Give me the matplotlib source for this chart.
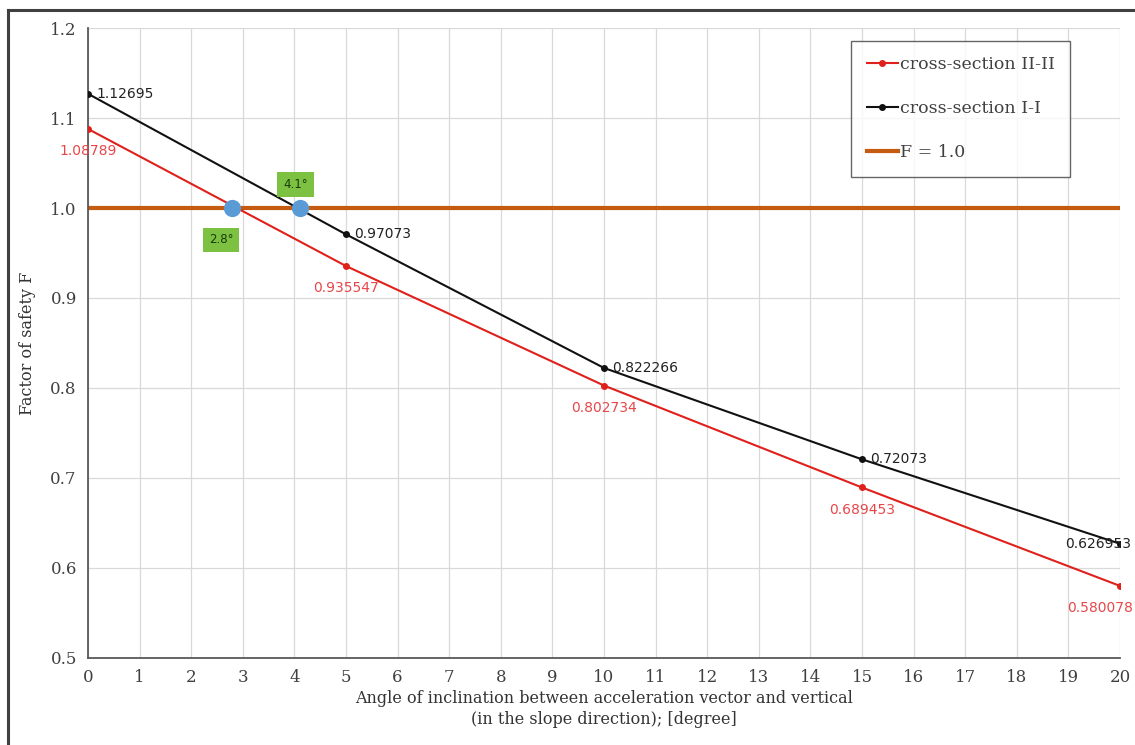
import matplotlib
matplotlib.use("Agg")
import matplotlib.pyplot as plt
from matplotlib.lines import Line2D

angles = [0, 5, 10, 15, 20]
f_sec2 = [1.08789, 0.935547, 0.802734, 0.689453, 0.580078]
f_sec1 = [1.12695, 0.97073, 0.822266, 0.72073, 0.626953]
lab_sec2 = ["1.08789", "0.935547", "0.802734", "0.689453", "0.580078"]
lab_sec1 = ["1.12695", "0.97073", "0.822266", "0.72073", "0.626953"]
cross_x = [2.8, 4.1]
cross_lab = ["2.8°", "4.1°"]
x_ticks = list(range(0, 21))
y_ticks = [0.5, 0.6, 0.7, 0.8, 0.9, 1.0, 1.1, 1.2]
y_tick_labels = ["0.5", "0.6", "0.7", "0.8", "0.9", "1.0", "1.1", "1.2"]

plt.rcParams['font.family'] = ['DejaVu Serif']

fig = plt.figure(figsize=(11.35, 7.45), dpi=100)
ax = fig.add_axes([0.0775, 0.1168, 0.9093, 0.8456])

# outer frame (left and top edges visible)
fig.add_artist(Line2D([8/1135, 8/1135], [0, 1 - 10/745], transform=fig.transFigure,
                      color='#404040', linewidth=2.2))
fig.add_artist(Line2D([8/1135, 1], [1 - 10/745, 1 - 10/745], transform=fig.transFigure,
                      color='#404040', linewidth=2.2))

red = '#E0201B'
black = '#111111'
orange = '#C55A11'

fline = ax.axhline(1.0, color=orange, linewidth=3, zorder=2, label='F = 1.0')
l2, = ax.plot(angles, f_sec2, color=red, marker='o', markersize=4, linewidth=1.5,
              zorder=3, label='cross-section II-II')
l1, = ax.plot(angles, f_sec1, color=black, marker='o', markersize=4, linewidth=1.5,
              zorder=3, label='cross-section I-I')

ax.scatter(cross_x, [1.0, 1.0], s=130, color='#5B9BD5', zorder=5)

# green labels
ax.annotate(cross_lab[0], (cross_x[0], 1.0), xytext=(-8, -23), textcoords='offset points',
            ha='center', va='center', fontsize=8.5, family='DejaVu Sans', color='#1a3a0a',
            bbox=dict(boxstyle='square,pad=0.5', fc='#7DC142', ec='none'), zorder=6)
ax.annotate(cross_lab[1], (cross_x[1], 1.0), xytext=(-3, 17), textcoords='offset points',
            ha='center', va='center', fontsize=8.5, family='DejaVu Sans', color='#1a3a0a',
            bbox=dict(boxstyle='square,pad=0.5', fc='#7DC142', ec='none'), zorder=6)

# data labels
for x, y, t in zip(angles, f_sec1, lab_sec1):
    if x == 20:
        ax.annotate(t, (x, y), xytext=(8, 0), textcoords='offset points', ha='right',
                    va='center', fontsize=10, family='DejaVu Sans', color='#222222', zorder=6)
    else:
        ax.annotate(t, (x, y), xytext=(6, 0), textcoords='offset points', ha='left',
                    va='center', fontsize=10, family='DejaVu Sans', color='#222222', zorder=6)
for x, y, t in zip(angles, f_sec2, lab_sec2):
    if x == 20:
        ax.annotate(t, (x, y), xytext=(9, -16), textcoords='offset points', ha='right',
                    va='center', fontsize=10, family='DejaVu Sans', color='#E8474A', zorder=6)
    else:
        ax.annotate(t, (x, y), xytext=(0, -16), textcoords='offset points', ha='center',
                    va='center', fontsize=10, family='DejaVu Sans', color='#E8474A', zorder=6)

ax.set_xlim(0, 20)
ax.set_ylim(0.5, 1.2)
ax.set_xticks(x_ticks)
ax.set_yticks(y_ticks)
ax.set_yticklabels(y_tick_labels)
ax.grid(True, color='#D9D9D9', linewidth=0.9)
ax.set_axisbelow(True)
for s in ['top', 'right']:
    ax.spines[s].set_visible(False)
for s in ['left', 'bottom']:
    ax.spines[s].set_color('#595959')
    ax.spines[s].set_linewidth(1.3)
ax.tick_params(length=0, labelsize=12, labelcolor='#404040', pad=8)

ax.set_ylabel('Factor of safety F', fontsize=11.5, color='#333333', labelpad=10)
ax.set_xlabel('Angle of inclination between acceleration vector and vertical\n(in the slope direction); [degree]',
              fontsize=11.5, color='#333333', labelpad=3, linespacing=1.25)

leg = ax.legend(handles=[l2, l1, fline], loc='upper right', bbox_to_anchor=(0.952, 0.98),
                fontsize=12.5, frameon=True, fancybox=False, edgecolor='#404040',
                handlelength=1.8, handletextpad=0.1, labelspacing=1.55, borderpad=0.9,
                borderaxespad=0, labelcolor='#404040')
leg.get_frame().set_linewidth(1.0)

fig.savefig('out.png', dpi=100)
